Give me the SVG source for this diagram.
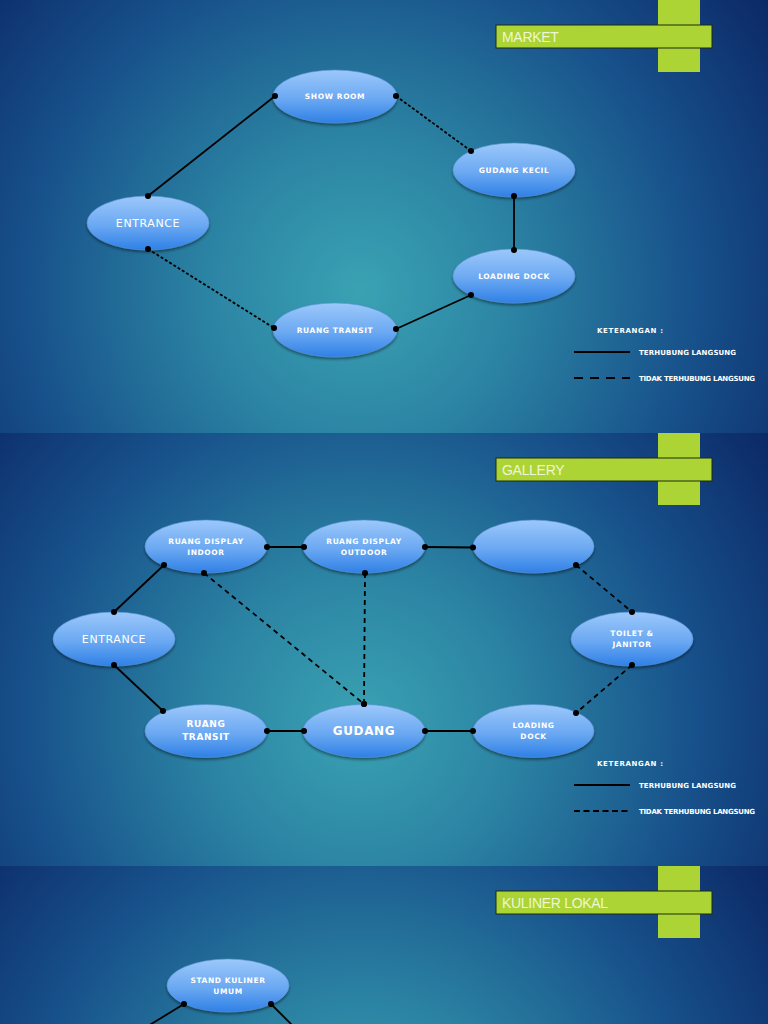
<svg xmlns="http://www.w3.org/2000/svg" width="768" height="1024" viewBox="0 0 768 1024">
<defs>
<radialGradient id="bg1" gradientUnits="userSpaceOnUse" cx="360" cy="290" r="520">
<stop offset="0" stop-color="#3aa2b3"/><stop offset="0.3" stop-color="#2b83a3"/><stop offset="0.65" stop-color="#17508a"/><stop offset="1" stop-color="#0a2462"/>
</radialGradient>
<radialGradient id="bg2" gradientUnits="userSpaceOnUse" cx="360" cy="723" r="520">
<stop offset="0" stop-color="#3aa2b3"/><stop offset="0.3" stop-color="#2b83a3"/><stop offset="0.65" stop-color="#17508a"/><stop offset="1" stop-color="#0a2462"/>
</radialGradient>
<radialGradient id="bg3" gradientUnits="userSpaceOnUse" cx="360" cy="1156" r="520">
<stop offset="0" stop-color="#3aa2b3"/><stop offset="0.3" stop-color="#2b83a3"/><stop offset="0.65" stop-color="#17508a"/><stop offset="1" stop-color="#0a2462"/>
</radialGradient>
<linearGradient id="nodeg" x1="0" y1="0" x2="0" y2="1">
<stop offset="0" stop-color="#9cc8fa"/><stop offset="0.55" stop-color="#6aa8f2"/><stop offset="1" stop-color="#2f80e6"/>
</linearGradient>
<filter id="sh" x="-20%" y="-20%" width="140%" height="150%">
<feGaussianBlur in="SourceAlpha" stdDeviation="1.5"/><feOffset dy="2" result="b"/>
<feComponentTransfer><feFuncA type="linear" slope="0.45"/></feComponentTransfer>
<feMerge><feMergeNode/><feMergeNode in="SourceGraphic"/></feMerge>
</filter>
<marker id="dot" markerWidth="8" markerHeight="8" refX="4" refY="4" markerUnits="userSpaceOnUse">
<circle cx="4" cy="4" r="3" fill="#000"/>
</marker>
</defs>
<style>
.node{fill:url(#nodeg);stroke:#5b93d6;stroke-width:0.6;filter:url(#sh)}
.lbl{font-family:"DejaVu Sans","Liberation Sans",sans-serif;fill:#ffffff;text-anchor:middle;font-weight:bold;letter-spacing:0.6px}
.s{font-size:7.5px}
.m{font-size:9px}
.l{font-size:11px;font-weight:normal}
.c{stroke:#000;stroke-width:1.8;fill:none;marker-start:url(#dot);marker-end:url(#dot)}
.d1{stroke-dasharray:3 2}
.d2{stroke-dasharray:5 4}
.bar{fill:#acd434;stroke:#1d2a12;stroke-width:1}
.vbar{fill:#acd434}
.title{font-family:"Liberation Sans","DejaVu Sans",sans-serif;font-size:14px;fill:#eef6d6;letter-spacing:-0.3px}
.leg{font-family:"DejaVu Sans","Liberation Sans",sans-serif;fill:#ffffff;font-size:7px;font-weight:bold}
.lline{stroke:#000;stroke-width:1.8}
</style>

<rect x="0" y="0" width="768" height="433" fill="url(#bg1)"/>
<rect x="0" y="433" width="768" height="433" fill="url(#bg2)"/>
<rect x="0" y="866" width="768" height="158" fill="url(#bg3)"/>

<!-- Slide 1: MARKET -->
<g id="title-market">
<rect class="vbar" x="658" y="0" width="42" height="72"/>
<rect class="bar" x="496" y="25" width="216" height="23"/>
<text class="title" x="502" y="42">MARKET</text>
</g>
<g id="m-showroom"><ellipse class="node" cx="335" cy="96.5" rx="62" ry="26.5"/><text class="lbl s" x="335" y="99">SHOW ROOM</text></g>
<g id="m-gudangkecil"><ellipse class="node" cx="514" cy="170" rx="61" ry="27"/><text class="lbl s" x="514" y="173">GUDANG KECIL</text></g>
<g id="m-entrance"><ellipse class="node" cx="148" cy="223" rx="61" ry="27"/><text class="lbl l" x="148" y="227">ENTRANCE</text></g>
<g id="m-loadingdock"><ellipse class="node" cx="514" cy="276" rx="61" ry="27"/><text class="lbl s" x="514" y="279">LOADING DOCK</text></g>
<g id="m-ruangtransit"><ellipse class="node" cx="335" cy="330" rx="62" ry="27"/><text class="lbl s" x="335" y="333">RUANG TRANSIT</text></g>
<g id="connectors-market">
<line class="c" x1="148" y1="196" x2="275" y2="96"/>
<line class="c d1" x1="396" y1="96" x2="471" y2="151"/>
<line class="c" x1="514" y1="196" x2="514" y2="250"/>
<line class="c" x1="471" y1="295" x2="396" y2="329"/>
<line class="c d1" x1="148" y1="249" x2="274" y2="328"/>
</g>
<g id="legend-market">
<text class="leg" x="597" y="333" font-size="8" textLength="66">KETERANGAN :</text>
<line class="lline" x1="574" y1="352" x2="630" y2="352"/>
<text class="leg" x="639" y="355" textLength="97">TERHUBUNG LANGSUNG</text>
<line class="lline" x1="574" y1="378" x2="630" y2="378" stroke-dasharray="9 7"/>
<text class="leg" x="639" y="381" textLength="116">TIDAK TERHUBUNG LANGSUNG</text>
</g>

<!-- Slide 2: GALLERY -->
<g id="title-gallery">
<rect class="vbar" x="658" y="433" width="42" height="72"/>
<rect class="bar" x="496" y="458" width="216" height="23"/>
<text class="title" x="502" y="475">GALLERY</text>
</g>
<g id="g-indoor"><ellipse class="node" cx="206" cy="546.5" rx="61" ry="26.5"/><text class="lbl s" x="206" y="544">RUANG DISPLAY</text><text class="lbl s" x="206" y="555">INDOOR</text></g>
<g id="g-outdoor"><ellipse class="node" cx="364" cy="546.5" rx="61" ry="26.5"/><text class="lbl s" x="364" y="544">RUANG DISPLAY</text><text class="lbl s" x="364" y="555">OUTDOOR</text></g>
<g id="g-blank"><ellipse class="node" cx="533.5" cy="546.5" rx="60.5" ry="26.5"/></g>
<g id="g-entrance"><ellipse class="node" cx="114" cy="639" rx="61" ry="27"/><text class="lbl l" x="114" y="643">ENTRANCE</text></g>
<g id="g-toilet"><ellipse class="node" cx="632" cy="639" rx="61" ry="27"/><text class="lbl s" x="632" y="636" letter-spacing="0">TOILET &amp;</text><text class="lbl s" x="632" y="647" letter-spacing="0">JANITOR</text></g>
<g id="g-transit"><ellipse class="node" cx="206" cy="731" rx="61" ry="26.5"/><text class="lbl m" x="206" y="727" font-weight="normal">RUANG</text><text class="lbl m" x="206" y="740" font-weight="normal">TRANSIT</text></g>
<g id="g-gudang"><ellipse class="node" cx="364" cy="731" rx="61" ry="26.5"/><text class="lbl" x="364" y="735" font-size="12" font-weight="normal">GUDANG</text></g>
<g id="g-loading"><ellipse class="node" cx="533.5" cy="731" rx="60.5" ry="26.5"/><text class="lbl s" x="533.5" y="728">LOADING</text><text class="lbl s" x="533.5" y="739">DOCK</text></g>
<g id="connectors-gallery">
<line class="c" x1="267" y1="547" x2="304" y2="547"/>
<line class="c" x1="425" y1="547" x2="473" y2="547.5"/>
<line class="c d2" x1="576" y1="565" x2="632" y2="612"/>
<line class="c d2" x1="632" y1="665" x2="576" y2="713"/>
<line class="c" x1="473" y1="731" x2="425" y2="731"/>
<line class="c" x1="304" y1="731" x2="267" y2="731"/>
<line class="c" x1="163" y1="711" x2="114" y2="665"/>
<line class="c" x1="114" y1="612" x2="164" y2="565"/>
<line class="c d2" x1="204" y1="573" x2="364" y2="704"/>
<line class="c d2" x1="365" y1="573" x2="364" y2="704"/>
</g>
<g id="legend-gallery">
<text class="leg" x="597" y="766" font-size="8" textLength="66">KETERANGAN :</text>
<line class="lline" x1="574" y1="785" x2="630" y2="785"/>
<text class="leg" x="639" y="788" textLength="97">TERHUBUNG LANGSUNG</text>
<line class="lline" x1="574" y1="811" x2="630" y2="811" stroke-dasharray="6 3.5"/>
<text class="leg" x="639" y="814" textLength="116">TIDAK TERHUBUNG LANGSUNG</text>
</g>

<!-- Slide 3: KULINER LOKAL -->
<g id="title-kuliner">
<rect class="vbar" x="658" y="866" width="42" height="72"/>
<rect class="bar" x="496" y="891" width="216" height="23"/>
<text class="title" x="502" y="908">KULINER LOKAL</text>
</g>
<g id="k-stand"><ellipse class="node" cx="228" cy="985.5" rx="61" ry="26.5"/><text class="lbl s" x="228" y="983">STAND KULINER</text><text class="lbl s" x="228" y="994">UMUM</text></g>
<g id="connectors-kuliner">
<line stroke="#000" stroke-width="1.8" marker-start="url(#dot)" x1="184" y1="1004" x2="148" y2="1026"/>
<line stroke="#000" stroke-width="1.8" marker-start="url(#dot)" x1="271" y1="1004" x2="293" y2="1026"/>
</g>
</svg>
